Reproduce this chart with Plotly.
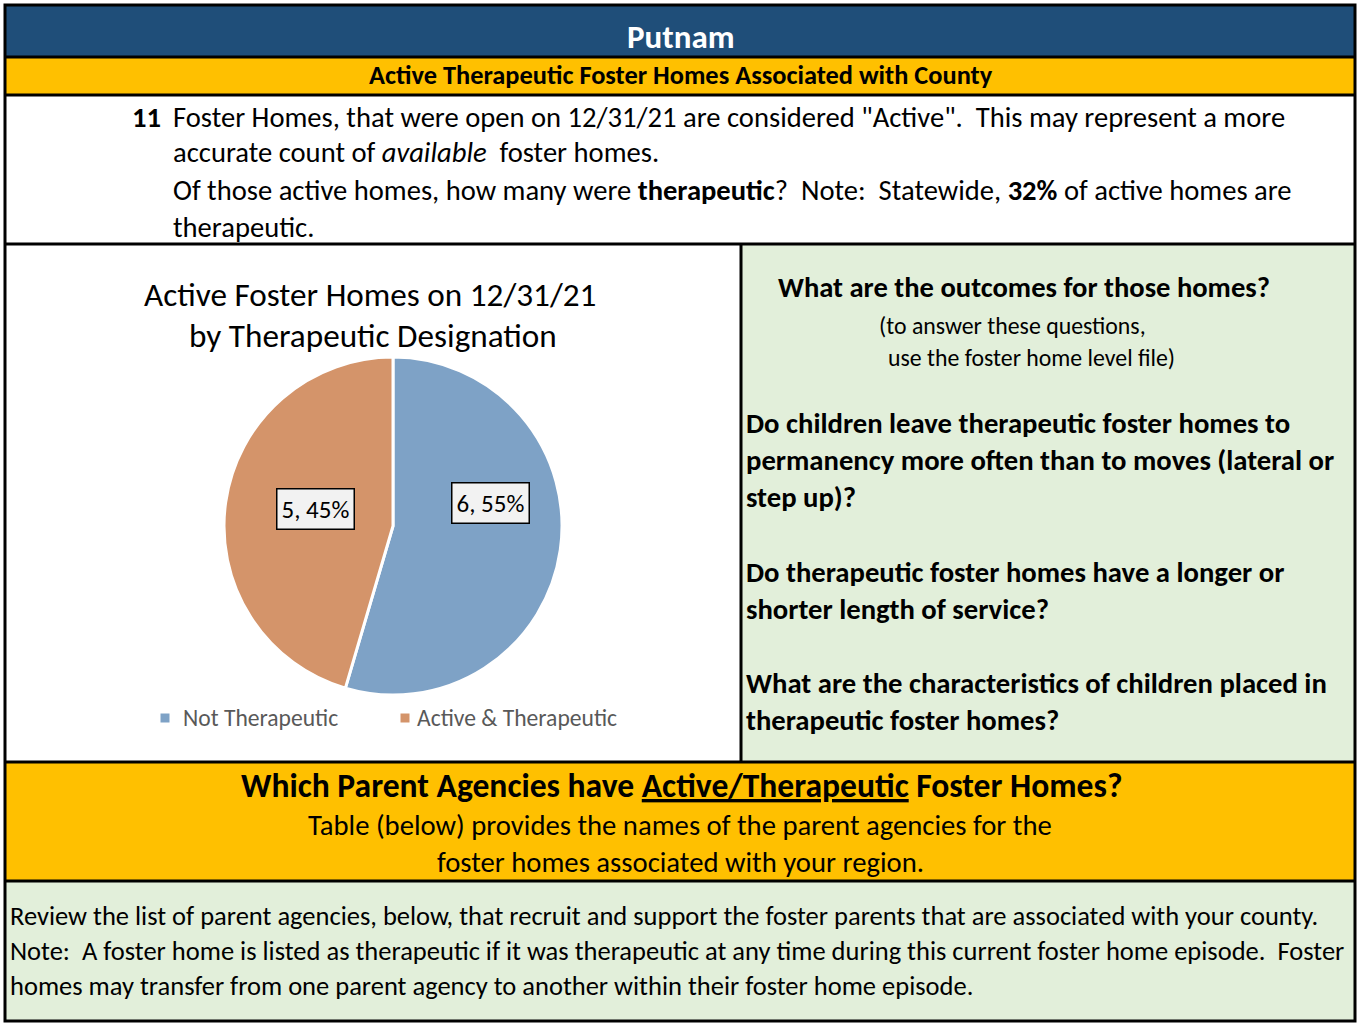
import plotly.graph_objects as go

W, H = 1357, 1023

# ---- data ----
categories = ["Not Therapeutic", "Active & Therapeutic"]
counts = [6, 5]
slice_colors = ["#7EA2C6", "#D4946A"]

county = "Putnam"
total_active = 11
statewide_pct = "32%"

FONT = "Carlito, Calibri, Lato, sans-serif"

def px(x):
    return x / W

def py(y):
    return 1 - y / H

fig = go.Figure()

fig.add_trace(go.Pie(
    labels=categories,
    values=counts,
    marker=dict(colors=slice_colors, line=dict(color="white", width=3)),
    sort=False,
    direction="clockwise",
    rotation=0,
    textinfo="none",
    hoverinfo="label+value+percent",
    domain=dict(x=[px(224), px(562)], y=[py(695), py(357)]),
    showlegend=False,
))

shapes = []
def rect(x0, y0, x1, y1, color, layer="below"):
    shapes.append(dict(type="rect", xref="paper", yref="paper",
                       x0=px(x0), x1=px(x1), y0=py(y1), y1=py(y0),
                       fillcolor=color, line=dict(width=0), layer=layer))

def line(x0, y0, x1, y1, w=3):
    shapes.append(dict(type="line", xref="paper", yref="paper",
                       x0=px(x0), x1=px(x1), y0=py(y0), y1=py(y1),
                       line=dict(color="black", width=w), layer="above"))

rect(5, 6, 1356, 57, "#1F4E79")
rect(5, 57, 1356, 95, "#FFC000")
rect(742, 244, 1356, 762, "#E2EFDA")
rect(5, 762, 1356, 881, "#FFC000")
rect(5, 881, 1356, 1021, "#E2EFDA")

line(5, 57, 1356, 57)
line(5, 95, 1356, 95)
line(5, 244, 1356, 244)
line(741, 244, 741, 762)
line(5, 762, 1356, 762)
line(5, 881, 1356, 881)
shapes.append(dict(type="rect", xref="paper", yref="paper",
                   x0=px(5), x1=px(1355), y0=py(1021), y1=py(5),
                   line=dict(color="black", width=3), fillcolor="rgba(0,0,0,0)", layer="above"))

ann = []
def text(x, y, s, size, anchor="left", color="black", bold=False, bg=None, border=None):
    if bold:
        s = "<b>" + s + "</b>"
    d = dict(x=px(x), y=py(y), xref="paper", yref="paper", text=s, showarrow=False,
             xanchor=anchor, yanchor="middle", font=dict(family=FONT, size=size, color=color))
    if bg:
        d.update(bgcolor=bg, bordercolor=border, borderwidth=1.5, borderpad=4)
    ann.append(d)

NB = "\u00a0"
BODY = 28.6
text(681, 37, county, 33, "center", "white", True)
text(681, 75, "Active Therapeutic Foster Homes Associated with County", 26.4, "center", bold=True)

text(163, 117, f"<b>{total_active}</b>", BODY, "right")
text(171, 117, f"Foster Homes, that were open on 12/31/21 are considered \"Active\".{NB} This may represent a more", BODY)
text(171, 153, f"accurate count of <i>available</i>{NB} foster homes.", BODY)
text(171, 190, f"Of those active homes, how many were <b>therapeutic</b>?{NB} Note:{NB} Statewide, <b>{statewide_pct}</b> of active homes are", BODY)
text(171, 227, "therapeutic.", BODY)

text(370, 295, "Active Foster Homes on 12/31/21", 33.2, "center")
text(373, 336, "by Therapeutic Designation", 33.2, "center")

total = sum(counts)
label_pos = [(490, 503), (315, 509)]
for (lx, ly), v in zip(label_pos, counts):
    text(lx, ly, f"{v}, {round(100 * v / total)}%", 25, "center", bg="#F2F2F2", border="black")

# legend (manual, to match spacing)
legend_slots = [(165, 181), (405, 415)]
for (mx, tx), name, col in zip(legend_slots, categories, slice_colors):
    rect(mx - 4.5, 713.5, mx + 4.5, 722.5, col, layer="above")
    text(tx, 718, name, 23.6, "left", "#595959")

text(1024, 287, "What are the outcomes for those homes?", 28.6, "center", bold=True)
text(1012, 326, "(to answer these questions,", 23.8, "center")
text(1031, 357, "use the foster home level file)", 23.8, "center")

qs = [(423, "Do children leave therapeutic foster homes to"),
      (460, "permanency more often than to moves (lateral or"),
      (497, "step up)?"),
      (572, "Do therapeutic foster homes have a longer or"),
      (609, "shorter length of service?"),
      (683, "What are the characteristics of children placed in"),
      (720, "therapeutic foster homes?")]
for y, s in qs:
    text(744, y, s, 28.7, bold=True)

text(681, 785, "Which Parent Agencies have <u>Active/Therapeutic</u> Foster Homes?", 33.6, "center", bold=True)
text(680, 825, "Table (below) provides the names of the parent agencies for the", 28.7, "center")
text(680, 862, "foster homes associated with your region.", 28.7, "center")

text(8, 916, "Review the list of parent agencies, below, that recruit and support the foster parents that are associated with your county.", 26.5)
text(8, 951, f"Note:{NB} A foster home is listed as therapeutic if it was therapeutic at any time during this current foster home episode.{NB} Foster", 26.5)
text(8, 986, "homes may transfer from one parent agency to another within their foster home episode.", 26.5)

fig.update_layout(
    width=W, height=H,
    margin=dict(l=0, r=0, t=0, b=0),
    paper_bgcolor="white",
    plot_bgcolor="white",
    shapes=shapes,
    annotations=ann,
    showlegend=False,
)

fig.write_html("out.html", config={"displayModeBar": False},
               post_script="document.body.style.margin='0px';")
